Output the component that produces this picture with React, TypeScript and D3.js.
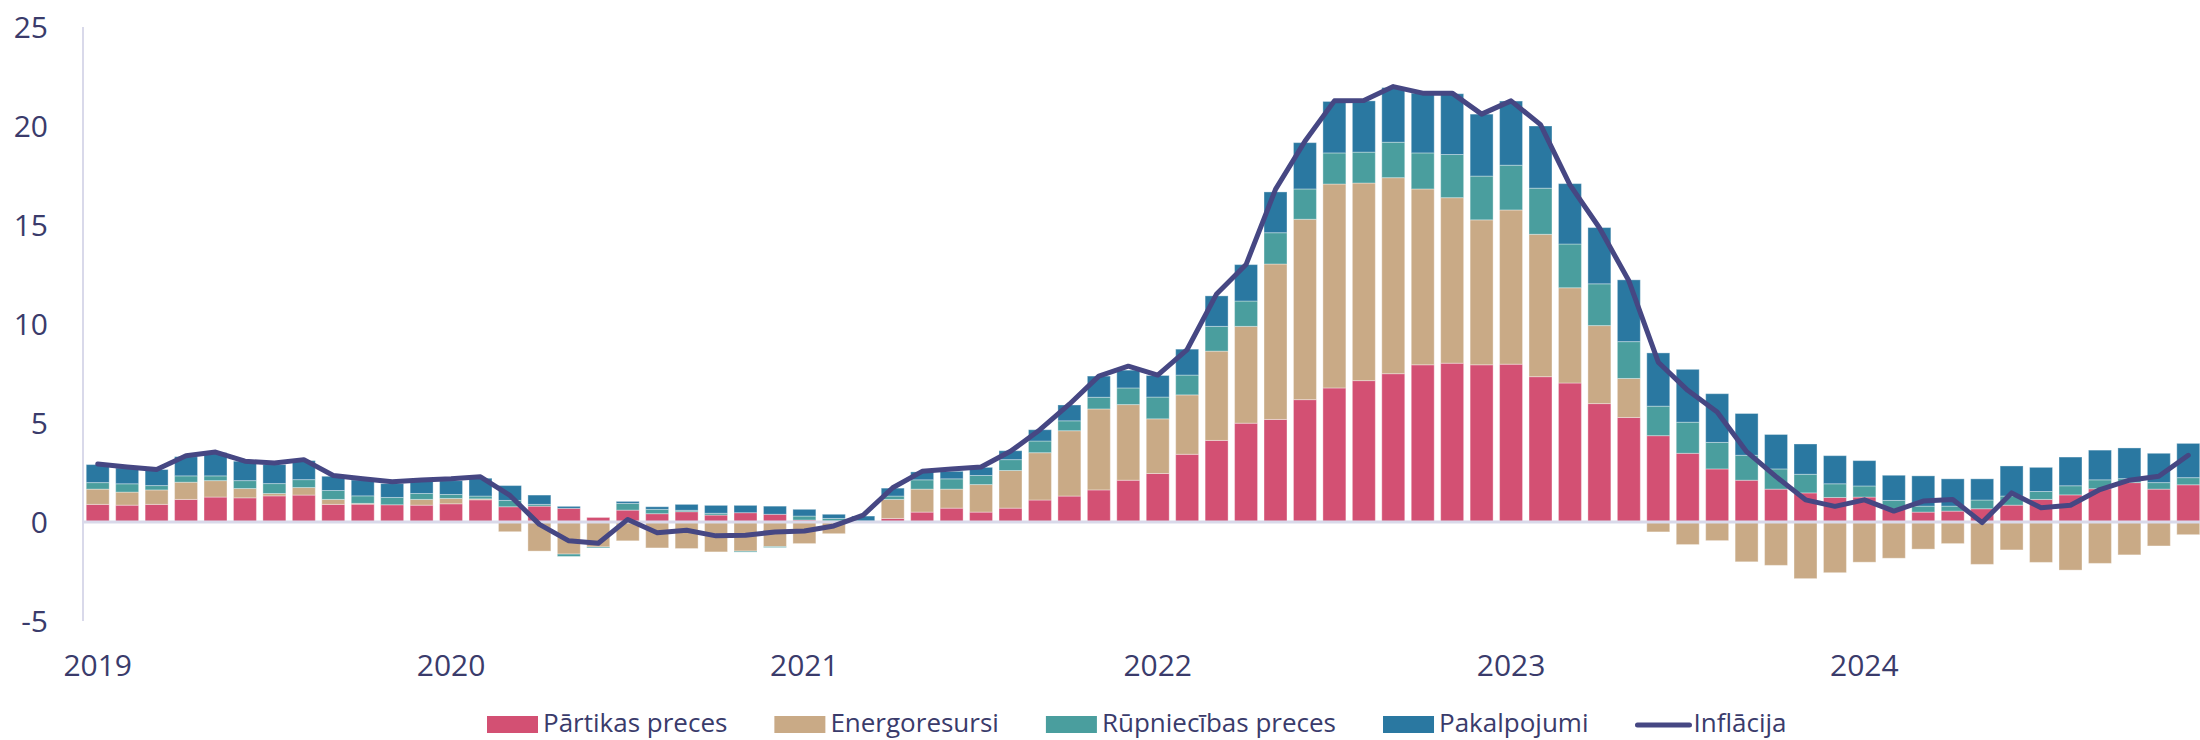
import React, { useEffect, useRef } from 'react';
import * as d3 from 'd3';

const months = d3.range(72).map(i => new Date(2019 + Math.floor(i / 12), i % 12, 1));
const yearLabels = ['2019', '2020', '2021', '2022', '2023', '2024'];
const yTicks = [-5, 0, 5, 10, 15, 20, 25];

// Pārtikas preces
const food = [
  0.89, 0.85, 0.89, 1.14, 1.26, 1.22, 1.32, 1.36, 0.89, 0.90, 0.87, 0.85,
  0.92, 1.12, 0.77, 0.80, 0.69, 0.23, 0.60, 0.42, 0.52, 0.35, 0.47, 0.39,
  0.10, 0.05, 0.02, 0.18, 0.50, 0.70, 0.50, 0.70, 1.11, 1.31, 1.62, 2.11,
  2.45, 3.42, 4.12, 4.99, 5.18, 6.18, 6.77, 7.14, 7.49, 7.94, 8.02, 7.94,
  7.97, 7.34, 7.02, 5.98, 5.28, 4.36, 3.47, 2.68, 2.11, 1.66, 1.47, 1.24,
  1.26, 0.64, 0.50, 0.55, 0.67, 0.85, 1.14, 1.37, 1.68, 1.99, 1.66, 1.88,
];
// Energoresursi
const energy = [
  0.77, 0.66, 0.73, 0.87, 0.83, 0.47, 0.12, 0.38, 0.25, 0.04, 0.00, 0.29,
  0.27, 0.05, -0.49, -1.47, -1.62, -1.26, -0.95, -1.31, -1.34, -1.51, -1.47, -1.24,
  -1.09, -0.59, 0.00, 0.96, 1.16, 0.96, 1.39, 1.90, 2.39, 3.30, 4.09, 3.82,
  2.76, 3.00, 4.51, 4.89, 7.85, 9.11, 10.30, 9.98, 9.90, 8.88, 8.36, 7.32,
  7.79, 7.19, 4.81, 3.94, 1.97, -0.50, -1.14, -0.94, -2.01, -2.19, -2.86, -2.56,
  -2.03, -1.83, -1.37, -1.09, -2.14, -1.41, -2.04, -2.43, -2.09, -1.66, -1.21, -0.64,
];
// Rūpniecības preces
const industrial = [
  0.33, 0.42, 0.22, 0.32, 0.24, 0.40, 0.50, 0.40, 0.45, 0.38, 0.37, 0.30,
  0.20, 0.14, 0.32, 0.09, -0.12, -0.05, 0.34, 0.22, 0.07, 0.09, -0.05, -0.05,
  0.20, 0.13, 0.03, 0.17, 0.47, 0.52, 0.46, 0.55, 0.59, 0.50, 0.59, 0.84,
  1.10, 1.00, 1.25, 1.28, 1.58, 1.53, 1.57, 1.56, 1.79, 1.82, 2.18, 2.21,
  2.26, 2.33, 2.21, 2.11, 1.86, 1.49, 1.57, 1.34, 1.26, 1.02, 0.94, 0.69,
  0.56, 0.45, 0.30, 0.25, 0.44, 0.46, 0.40, 0.46, 0.45, 0.20, 0.33, 0.36,
];
// Pakalpojumi
const services = [
  0.91, 0.80, 0.81, 0.97, 1.17, 0.98, 0.96, 0.96, 0.72, 0.80, 0.70, 0.65,
  0.70, 0.90, 0.75, 0.47, 0.10, 0.00, 0.10, 0.13, 0.30, 0.40, 0.37, 0.41,
  0.34, 0.21, 0.25, 0.40, 0.40, 0.38, 0.41, 0.45, 0.57, 0.80, 1.07, 0.90,
  1.09, 1.31, 1.54, 1.84, 2.06, 2.34, 2.60, 2.59, 2.76, 3.02, 3.07, 3.13,
  3.24, 3.14, 3.05, 2.84, 3.12, 2.69, 2.67, 2.46, 2.11, 1.74, 1.53, 1.42,
  1.28, 1.27, 1.53, 1.38, 1.07, 1.52, 1.22, 1.45, 1.50, 1.55, 1.48, 1.73,
];
// Inflācija
const inflation = [
  2.93, 2.78, 2.65, 3.35, 3.53, 3.07, 2.98, 3.15, 2.35, 2.18, 2.03, 2.12,
  2.18, 2.28, 1.34, -0.12, -0.95, -1.07, 0.13, -0.54, -0.42, -0.70, -0.67, -0.50,
  -0.45, -0.20, 0.35, 1.73, 2.56, 2.68, 2.78, 3.57, 4.66, 5.95, 7.37, 7.87,
  7.42, 8.71, 11.52, 13.00, 16.80, 19.23, 21.27, 21.29, 21.99, 21.66, 21.66, 20.60,
  21.27, 20.07, 17.03, 14.86, 12.18, 8.07, 6.65, 5.56, 3.55, 2.29, 1.12, 0.79,
  1.12, 0.55, 1.06, 1.14, -0.03, 1.47, 0.72, 0.85, 1.64, 2.11, 2.31, 3.37,
];

const seriesKeys = ['food', 'energy', 'industrial', 'services'];
const seriesNames = ['Pārtikas preces', 'Energoresursi', 'Rūpniecības preces', 'Pakalpojumi'];
const seriesColors = ['#d35073', '#c9aa86', '#4a9e9e', '#2a78a1'];
const lineName = 'Inflācija';
const lineColor = '#464783';
const textColor = '#3a3b6b';
const gridColor = '#d9d9ea';

const W = 2200;
const H = 740;

export default function App() {
  const ref = useRef<SVGSVGElement>(null);

  useEffect(() => {
    document.body.style.margin = '0';
    const svg = d3.select(ref.current);
    svg.selectAll('*').remove();

    const table = months.map((m, i) => ({
      month: m,
      food: food[i],
      energy: energy[i],
      industrial: industrial[i],
      services: services[i],
      inflation: inflation[i],
    }));

    const x = d3.scaleBand<number>()
      .domain(d3.range(table.length))
      .range([83, 2203])
      .paddingInner(0.22)
      .paddingOuter(0.11);
    const y = d3.scaleLinear().domain([-5, 25]).range([621, 27]);

    const stack = d3.stack<any>().keys(seriesKeys).offset(d3.stackOffsetDiverging);
    const layers = stack(table);

    // y axis labels
    svg.append('g')
      .selectAll('text')
      .data(yTicks)
      .join('text')
      .attr('x', 48)
      .attr('y', d => y(d))
      .attr('dy', '0.35em')
      .attr('text-anchor', 'end')
      .attr('font-family', '"Open Sans", sans-serif')
      .attr('font-size', 30)
      .attr('fill', textColor)
      .text(d => String(d));

    svg.append('line')
      .attr('x1', 83).attr('x2', 83)
      .attr('y1', y(25)).attr('y2', y(-5))
      .attr('stroke', gridColor).attr('stroke-width', 2);

    // bars
    svg.append('g')
      .selectAll('g')
      .data(layers)
      .join('g')
      .attr('fill', (_, i) => seriesColors[i])
      .selectAll('rect')
      .data(d => d.map((v, i) => ({ v, i })))
      .join('rect')
      .attr('x', d => x(d.i)!)
      .attr('width', x.bandwidth())
      .attr('y', d => y(Math.max(d.v[0], d.v[1])))
      .attr('height', d => Math.abs(y(d.v[0]) - y(d.v[1])))
      .attr('stroke', 'rgba(255,255,255,0.35)')
      .attr('stroke-width', 1);

    // zero line
    svg.append('line')
      .attr('x1', 83).attr('x2', W)
      .attr('y1', y(0)).attr('y2', y(0))
      .attr('stroke', gridColor).attr('stroke-width', 3);

    // inflation line
    const line = d3.line<any>()
      .x((_, i) => x(i)! + x.bandwidth() / 2)
      .y(d => y(d.inflation));
    svg.append('path')
      .datum(table)
      .attr('d', line)
      .attr('fill', 'none')
      .attr('stroke', lineColor)
      .attr('stroke-width', 5)
      .attr('stroke-linejoin', 'round')
      .attr('stroke-linecap', 'round');

    // x labels
    svg.append('g')
      .selectAll('text')
      .data(yearLabels)
      .join('text')
      .attr('x', (_, k) => x(k * 12)! + x.bandwidth() / 2)
      .attr('y', 665)
      .attr('dy', '0.35em')
      .attr('text-anchor', 'middle')
      .attr('font-family', '"Open Sans", sans-serif')
      .attr('font-size', 30)
      .attr('fill', textColor)
      .text(d => d);

    // legend, laid out from the measured text widths
    const lg = svg.append('g').attr('font-family', '"Open Sans", sans-serif').attr('font-size', 26);
    let lx = 487;
    const ly = 724;
    seriesNames.forEach((name, i) => {
      lg.append('rect')
        .attr('x', lx).attr('y', 716)
        .attr('width', 51).attr('height', 17)
        .attr('fill', seriesColors[i]);
      const t = lg.append('text')
        .attr('x', lx + 56).attr('y', ly)
        .attr('dy', '0.32em')
        .attr('fill', textColor)
        .text(name);
      const w = (t.node() as SVGTextElement).getComputedTextLength();
      lx += 56 + w + 47;
    });
    lg.append('line')
      .attr('x1', lx + 2).attr('x2', lx + 54)
      .attr('y1', ly + 1).attr('y2', ly + 1)
      .attr('stroke', lineColor).attr('stroke-width', 5)
      .attr('stroke-linecap', 'round');
    lg.append('text')
      .attr('x', lx + 58).attr('y', ly)
      .attr('dy', '0.32em')
      .attr('fill', textColor)
      .text(lineName);
  }, []);

  return <svg ref={ref} width={W} height={H} style={{ display: 'block' }} />;
}
